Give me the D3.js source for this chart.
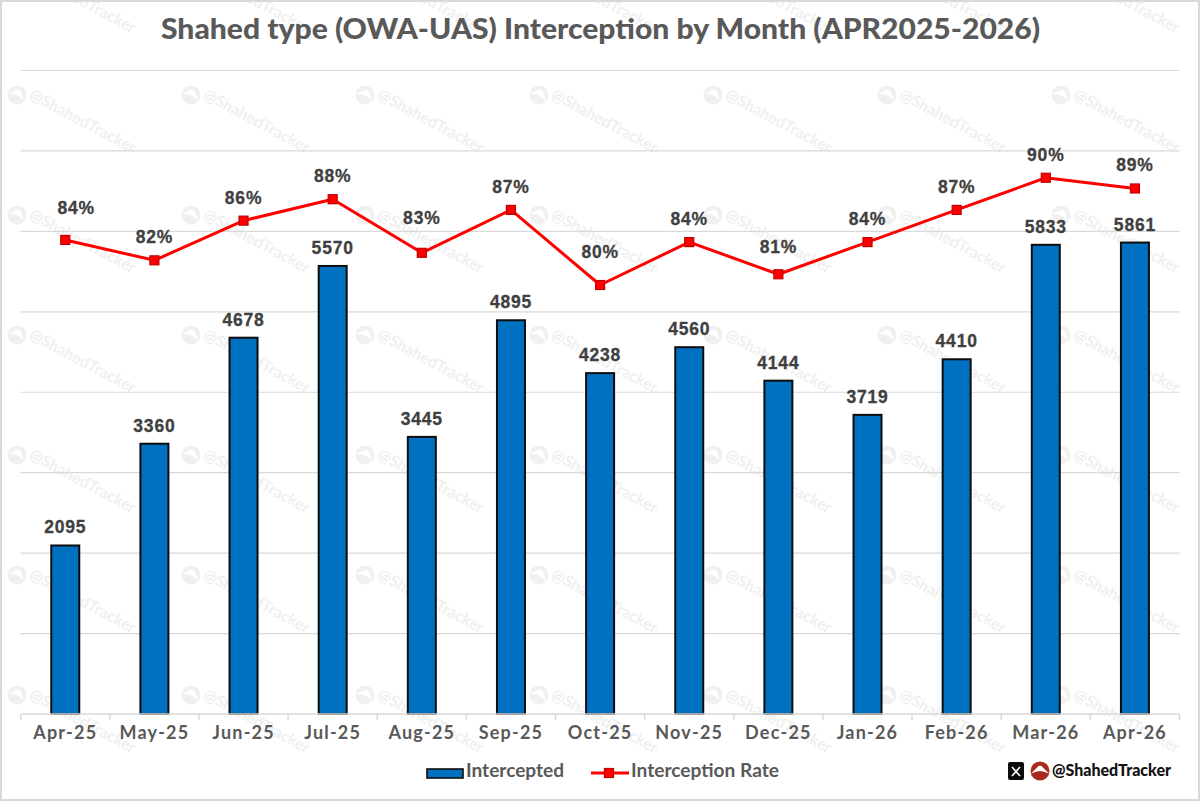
<!DOCTYPE html>
<html>
<head>
<meta charset="utf-8">
<script src="https://cdn.jsdelivr.net/npm/d3@7"></script>
<style>
  html, body { margin: 0; padding: 0; background: #fff; }
  svg { display: block; }
</style>
</head>
<body>
<svg id="chart" width="1200" height="801"></svg>
<script>
const months = ["Apr-25","May-25","Jun-25","Jul-25","Aug-25","Sep-25","Oct-25","Nov-25","Dec-25","Jan-26","Feb-26","Mar-26","Apr-26"];
const intercepted = [2095,3360,4678,5570,3445,4895,4238,4560,4144,3719,4410,5833,5861];
const interceptionRate = [84.2,82.3,86,88,83,87,80,84,81,84,87,90,89];
const countTicks = [0,1000,2000,3000,4000,5000,6000,7000,8000];

// Hand-placed rate labels: some sit higher or to the side to clear the line.
const rateLabelLift = [26,17,17,17,29,17,27,17,21,17,17,17,17];
const rateLabelShift = [11,0,0,0,0,0,0,0,0,0,0,0,0];

const W = 1200, H = 801;
const plot = { left: 20.7, right: 1179.5, top: 70.5, bottom: 714 };
const heading = "Lato, 'Noto Sans', sans-serif";
const numeric = "'Liberation Sans', Arial, sans-serif";

const svg = d3.select("#chart");
svg.append("rect").attr("width", W).attr("height", H).attr("fill", "#fff");

// Repeating handle stamp behind the chart
const stamp = svg.append("g").attr("class", "stamps");
const logoPeak = "M-9,2.5 L-1.5,-5 Q0,-6 1.5,-5 L9,2.5 L3,0.5 Q0,-0.5 -3,0.5 Z";
d3.range(0, 7).forEach(col => d3.range(0, 7).forEach(row => {
  const g = stamp.append("g").attr("transform", `translate(${17 + 174 * col},${-25 + 120 * row})`);
  g.append("circle").attr("r", 9.5).attr("fill", "#f0f0f0");
  g.append("path").attr("d", logoPeak).attr("fill", "#fff").attr("transform", "rotate(25)");
  g.append("text")
    .attr("transform", "translate(11,3) rotate(28)")
    .attr("font-family", heading).attr("font-size", 16).attr("font-weight", 700)
    .attr("fill", "#f0f0f0")
    .text("@ShahedTracker");
}));

const x = d3.scaleBand().domain(months).range([plot.left, plot.right]).paddingInner(0).paddingOuter(0);
const yCount = d3.scaleLinear().domain([0, 8000]).range([plot.bottom, plot.top]);
const yRate = d3.scaleLinear().domain([40, 100]).range([plot.bottom, plot.top]);
const cx = m => x(m) + x.bandwidth() / 2;

// Horizontal gridlines
svg.append("g").selectAll("line").data(countTicks.slice(1)).join("line")
  .attr("x1", plot.left).attr("x2", plot.right)
  .attr("y1", d => yCount(d)).attr("y2", d => yCount(d))
  .attr("stroke", "#d9d9d9").attr("stroke-width", 1.2);

// Bars
const barWidth = 28;
svg.append("g").selectAll("rect").data(intercepted).join("rect")
  .attr("x", (d, i) => cx(months[i]) - barWidth / 2)
  .attr("y", d => yCount(d))
  .attr("width", barWidth)
  .attr("height", d => yCount(0) - yCount(d))
  .attr("fill", "#0070c0").attr("stroke", "#0d0d0d").attr("stroke-width", 2);

// Category axis: labels from the axis generator, ticks on the band edges
const axis = svg.append("g").attr("transform", `translate(0,${plot.bottom})`)
  .call(d3.axisBottom(x).tickSize(0).tickPadding(12));
axis.select(".domain").remove();
axis.selectAll("text")
  .attr("font-family", heading).attr("font-size", 18).attr("font-weight", 700)
  .attr("letter-spacing", 1.2)
  .attr("fill", "#595959");
svg.append("line")
  .attr("x1", plot.left).attr("x2", plot.right)
  .attr("y1", plot.bottom).attr("y2", plot.bottom)
  .attr("stroke", "#d9d9d9").attr("stroke-width", 1.4);
svg.append("g").selectAll("line").data(months.concat(null)).join("line")
  .attr("x1", d => d ? x(d) : plot.right).attr("x2", d => d ? x(d) : plot.right)
  .attr("y1", plot.bottom).attr("y2", plot.bottom + 6)
  .attr("stroke", "#d9d9d9").attr("stroke-width", 1.4);

// Rate line and square markers
const line = d3.line().x((d, i) => cx(months[i])).y(d => yRate(d));
svg.append("path").datum(interceptionRate).attr("d", line)
  .attr("fill", "none").attr("stroke", "#ff0000").attr("stroke-width", 3).attr("stroke-linejoin", "round");
svg.append("g").selectAll("rect").data(interceptionRate).join("rect")
  .attr("x", (d, i) => cx(months[i]) - 4.5)
  .attr("y", d => yRate(d) - 4.5)
  .attr("width", 9).attr("height", 9)
  .attr("fill", "#ff0000").attr("stroke", "#c00000").attr("stroke-width", 1.2);

// Data labels
const valueLabel = sel => sel
  .attr("font-family", numeric).attr("font-size", 17.5).attr("font-weight", 700)
  .attr("letter-spacing", 0.8)
  .attr("stroke", "#404040").attr("stroke-width", 0.3)
  .attr("fill", "#404040").attr("text-anchor", "middle");
svg.append("g").selectAll("text").data(intercepted).join("text")
  .call(valueLabel)
  .attr("x", (d, i) => cx(months[i]))
  .attr("y", d => yCount(d) - 12)
  .text(d => d);
svg.append("g").selectAll("text").data(interceptionRate).join("text")
  .call(valueLabel)
  .attr("x", (d, i) => cx(months[i]) + rateLabelShift[i])
  .attr("y", (d, i) => yRate(d) - rateLabelLift[i])
  .text(d => Math.round(d) + "%");

// Title
svg.append("text")
  .attr("x", 600.5).attr("y", 39)
  .attr("text-anchor", "middle")
  .attr("font-family", heading).attr("font-size", 29).attr("font-weight", 900)
  .attr("fill", "#595959")
  .attr("textLength", 879).attr("lengthAdjust", "spacingAndGlyphs")
  .text("Shahed type (OWA-UAS) Interception by Month (APR2025-2026)");

// Legend
const legendText = sel => sel
  .attr("font-family", heading).attr("font-size", 18).attr("font-weight", 700).attr("fill", "#595959");
const legendY = 777;
svg.append("rect").attr("x", 427).attr("y", 769).attr("width", 36).attr("height", 9)
  .attr("fill", "#0070c0").attr("stroke", "#0d0d0d").attr("stroke-width", 1.6);
svg.append("text").call(legendText).attr("x", 466).attr("y", legendY)
  .attr("textLength", 98).attr("lengthAdjust", "spacingAndGlyphs").text("Intercepted");
svg.append("line").attr("x1", 591).attr("x2", 629).attr("y1", 773).attr("y2", 773)
  .attr("stroke", "#ff0000").attr("stroke-width", 3);
svg.append("rect").attr("x", 604.5).attr("y", 768.5).attr("width", 9).attr("height", 9)
  .attr("fill", "#ff0000").attr("stroke", "#c00000").attr("stroke-width", 1.2);
svg.append("text").call(legendText).attr("x", 631).attr("y", legendY)
  .attr("textLength", 148).attr("lengthAdjust", "spacingAndGlyphs").text("Interception Rate");

// Handle badge, lower right
svg.append("rect").attr("x", 1008).attr("y", 762).attr("width", 16).attr("height", 18).attr("rx", 2).attr("fill", "#0a0a0a");
svg.append("path").attr("d", "M1012,767 L1020,776 M1020,767 L1012,776")
  .attr("stroke", "#fff").attr("stroke-width", 1.6).attr("fill", "none");
svg.append("circle").attr("cx", 1040).attr("cy", 771).attr("r", 9.5).attr("fill", "#a92a1c");
svg.append("path").attr("d", logoPeak).attr("fill", "#fff").attr("transform", "translate(1040,771)");
svg.append("text").attr("x", 1052).attr("y", 776)
  .attr("font-family", heading).attr("font-size", 16).attr("font-weight", 900).attr("fill", "#111")
  .attr("textLength", 119).attr("lengthAdjust", "spacingAndGlyphs").text("@ShahedTracker");

// Outer frame
svg.append("rect").attr("x", 1).attr("y", 1).attr("width", W - 2).attr("height", H - 2)
  .attr("fill", "none").attr("stroke", "#d9d9d9").attr("stroke-width", 2);
</script>
</body>
</html>
